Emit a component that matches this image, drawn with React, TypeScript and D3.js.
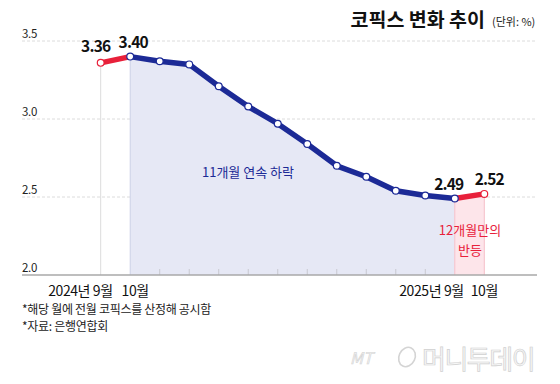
import React from "react";
import * as d3 from "d3";

const months = ["2024-09","2024-10","2024-11","2024-12","2025-01","2025-02","2025-03","2025-04","2025-05","2025-06","2025-07","2025-08","2025-09","2025-10"];
const values = [3.36, 3.40, 3.37, 3.35, 3.21, 3.08, 2.97, 2.84, 2.70, 2.63, 2.54, 2.51, 2.49, 2.52];
const yTicks = [2.0, 2.5, 3.0, 3.5];
const labeledIdx = [0, 1, 12, 13];

const W = 560, H = 384;
const NAVY = "#1c2a96";
const RED = "#e8203a";
const FONT = "'Noto Sans CJK KR', 'Noto Sans', sans-serif";

export default function App() {
  const x = d3.scaleLinear().domain([0, months.length - 1]).range([100.7, 484.3]);
  const y = d3.scaleLinear().domain([2.0, 3.5]).range([275, 41]);
  const idx = values.map((_, i) => i);
  const line = d3.line<number>().x(i => x(i)).y(i => y(values[i]));
  const area = d3.area<number>().x(i => x(i)).y0(y(2.0)).y1(i => y(values[i]));
  const blueIdx = idx.slice(1, 13);
  const pinkIdx = idx.slice(12, 14);
  const tickIdx = idx.slice(2, 12);
  const gridLeft = 22, gridRight = 537;

  return (
    <svg width={W} height={H} style={{ position: "absolute", left: 0, top: 0, background: "#fff" }} fontFamily={FONT}>
      {/* title */}
      <text x={485} y={27} textAnchor="end" fontSize={19.5} fontWeight={700} fill="#111">코픽스 변화 추이</text>
      <text x={492} y={26} fontSize={11} fill="#222">(단위: %)</text>

      {/* grid */}
      {yTicks.map(t => (
        <g key={t}>
          {t > 2.0 && <line x1={gridLeft} x2={gridRight} y1={y(t)} y2={y(t)} stroke="#dcdcdc" strokeDasharray="3,2" />}
          <text x={gridLeft} y={y(t) - 3} fontSize={11.5} fill="#222" letterSpacing={-0.3}>{t.toFixed(1)}</text>
        </g>
      ))}

      {/* areas */}
      <path d={area(blueIdx) || ""} fill="#e6e8f5" />
      <line x1={x(1)} x2={x(1)} y1={y(values[1])} y2={y(2.0)} stroke="#cdd0e6" />
      <path d={area(pinkIdx) || ""} fill="#fde5ea" />
      <line x1={x(12)} x2={x(12)} y1={y(values[12])} y2={y(2.0)} stroke="#f6bfc9" />
      <line x1={x(13)} x2={x(13)} y1={y(values[13])} y2={y(2.0)} stroke="#f6bfc9" />
      <line x1={x(0)} x2={x(0)} y1={y(values[0])} y2={y(2.0)} stroke="#dcdcdc" />

      {/* ticks */}
      {tickIdx.map(i => (
        <line key={i} x1={x(i)} x2={x(i)} y1={y(2.0) - 6} y2={y(2.0)} stroke="#c8c8d0" />
      ))}
      <line x1={gridLeft} x2={gridRight} y1={y(2.0)} y2={y(2.0)} stroke="#a8a8a8" strokeWidth={1.5} />

      {/* lines */}
      <path d={line(blueIdx) || ""} fill="none" stroke={NAVY} strokeWidth={5.5} strokeLinejoin="round" />
      <path d={line([0, 1]) || ""} fill="none" stroke={RED} strokeWidth={5.5} />
      <path d={line([12, 13]) || ""} fill="none" stroke={RED} strokeWidth={5.5} />

      {/* points */}
      {idx.map(i => (
        <circle key={i} cx={x(i)} cy={y(values[i])} r={3.4} fill="#fff"
          stroke={i === 0 || i === 13 ? RED : NAVY} strokeWidth={1.2} />
      ))}

      {/* value labels */}
      {labeledIdx.map(i => {
        const dx = i === 0 ? -5 : i === 13 ? 5 : i === 12 ? -6 : 3;
        return (
          <text key={i} x={x(i) + dx} y={y(values[i]) - (i === 0 ? 11 : 9)} textAnchor="middle"
            fontSize={15.5} fontWeight={700} fill="#111" letterSpacing={-0.8}>
            {values[i].toFixed(2)}
          </text>
        );
      })}

      {/* annotations */}
      <text x={248} y={177} textAnchor="middle" fontSize={13} fill={NAVY}>11개월 연속 하락</text>
      <text x={470} y={235} textAnchor="middle" fontSize={13} fill={RED}>12개월만의</text>
      <text x={470} y={255} textAnchor="middle" fontSize={13} fill={RED}>반등</text>

      {/* x labels */}
      <text x={x(0) + 12} y={296} textAnchor="end" fontSize={14} fill="#111" letterSpacing={-0.4}>2024년 9월</text>
      <text x={x(1) + 5} y={296} textAnchor="middle" fontSize={14} fill="#111" letterSpacing={-0.4}>10월</text>
      <text x={x(12) + 9} y={296} textAnchor="end" fontSize={14} fill="#111" letterSpacing={-0.4}>2025년 9월</text>
      <text x={x(13)} y={296} textAnchor="middle" fontSize={14} fill="#111" letterSpacing={-0.4}>10월</text>

      {/* footnotes */}
      <text x={22} y={314} fontSize={12} fill="#222" letterSpacing={-0.3}>*해당 월에 전월 코픽스를 산정해 공시함</text>
      <text x={22} y={331} fontSize={12} fill="#222" letterSpacing={-0.3}>*자료: 은행연합회</text>

      {/* watermark */}
      <g opacity={0.9}>
        <text x={350} y={364} fontSize={16} fontStyle="italic" fill="#f4f4f4" stroke="#cfcfcf" strokeWidth={0.6}>MT</text>
        <ellipse cx={407} cy={357} rx={8} ry={10} fill="none" stroke="#d0d0d0" strokeWidth={1.6} transform="rotate(25 407 357)" />
        <text x={422} y={369} fontSize={26} fill="#f6f6f6" stroke="#cccccc" strokeWidth={0.7} letterSpacing={-1.5}>머니투데이</text>
      </g>
    </svg>
  );
}
